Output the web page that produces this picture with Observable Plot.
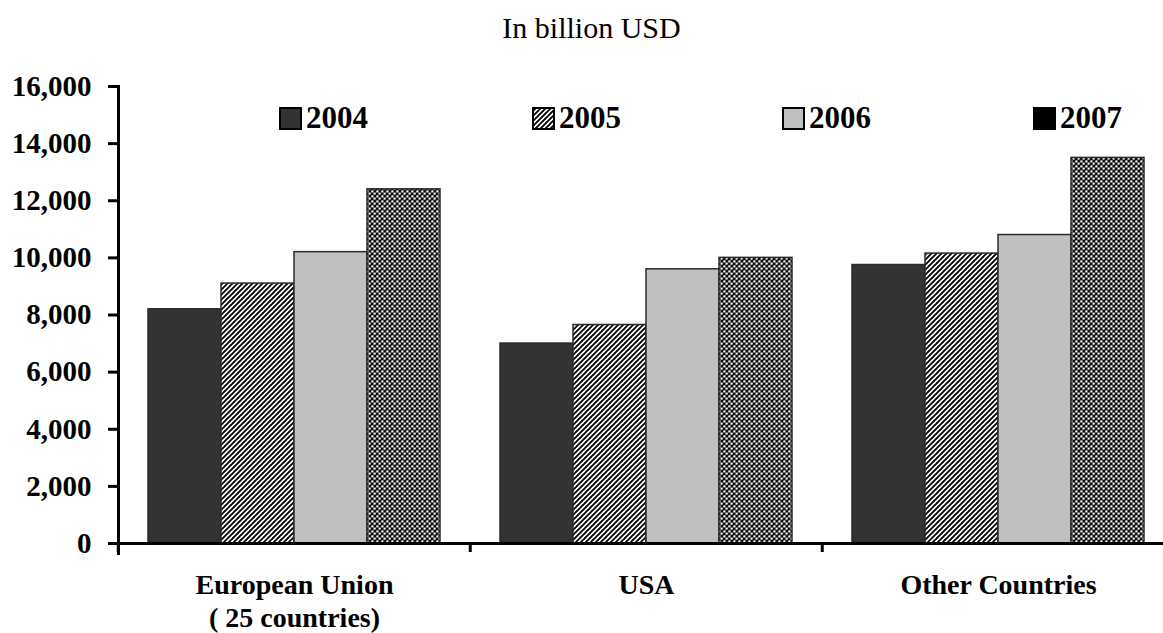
<!DOCTYPE html>
<html>
<head>
<meta charset="utf-8">
<script src="https://cdn.jsdelivr.net/npm/d3@7"></script>
<script src="https://cdn.jsdelivr.net/npm/@observablehq/plot@0.6"></script>
<style>
  html, body { margin: 0; padding: 0; background: #fff; }
  #wrap { position: relative; width: 1163px; height: 633px; overflow: hidden; }
  #title { position: absolute; left: 20px; top: 13px; width: 1143px; text-align: center;
           font-family: "Liberation Serif", serif; font-size: 30px; line-height: 30px; color: #000; }
  #chart { position: absolute; left: 0; top: 70px; }
  .leg { position: absolute; top: 103px; height: 30px; display: flex; align-items: center;
         font-family: "Liberation Serif", serif; font-weight: bold; font-size: 31px; color: #000; }
  .leg svg { margin-right: 4px; }
</style>
</head>
<body>
<div id="wrap">
  <div id="title"></div>
  <div id="chart"></div>
</div>
<script>
// ---- data ----
const title = "In billion USD";
const categories = ["European Union", "USA", "Other Countries"];
const categoryLabels = ["European Union\n( 25 countries)", "USA", "Other Countries"];
const years = ["2004", "2005", "2006", "2007"];
const euValues = [8200, 9100, 10200, 12400];
const usaValues = [7000, 7650, 9600, 10000];
const otherValues = [9750, 10150, 10800, 13500];
const yTicks = [0, 2000, 4000, 6000, 8000, 10000, 12000, 14000, 16000];

// ---- table ----
const series = [euValues, usaValues, otherValues];
const data = [];
categories.forEach((c, i) => years.forEach((y, j) => data.push({cat: c, year: y, value: series[i][j]})));
const labelOf = new Map(categories.map((c, i) => [c, categoryLabels[i]]));

const fills = ["#333333", "url(#p2005)", "#c0c0c0", "url(#p2007)"];
const legendFills = ["#333333", "url(#p2005)", "#c0c0c0", "#000000"];

document.getElementById("title").textContent = title;

const fmt = d3.format(",");
const font = "'Liberation Serif', serif";
const chart = Plot.plot({
  width: 1163,
  height: 563,
  marginLeft: 117,
  marginRight: -11.5,
  marginTop: 16,
  marginBottom: 90,
  style: {fontFamily: font, color: "#000", background: "transparent", overflow: "visible"},
  fx: {domain: categories, padding: 0, axis: null, label: null},
  x: {domain: years, paddingInner: 0, paddingOuter: 0.406, axis: null},
  y: {domain: [0, 16000], axis: null},
  color: {domain: years, range: fills, type: "ordinal"},
  marks: [
    Plot.barY(data, {fx: "cat", x: "year", y: "value", fill: "year", stroke: "#2a2a2a", strokeWidth: 1.5}),
    Plot.ruleY([0], {stroke: "#000", strokeWidth: 3}),
    Plot.frame({anchor: "left", facetAnchor: "left", stroke: "#000", strokeWidth: 3, insetBottom: -10}),
    Plot.axisY({ticks: yTicks, tickFormat: d => fmt(d), tickSize: 10, tickPadding: 17, strokeWidth: 3,
                fontSize: 29, fontWeight: "bold", label: null, facetAnchor: "left"}),
    Plot.axisFx({anchor: "bottom", tickSize: 9, text: null, dx: -176.25, strokeWidth: 3}),
    Plot.axisFx({anchor: "bottom", tickSize: 0, tickPadding: 27, tickFormat: d => labelOf.get(d),
                 fontSize: 28, fontWeight: "bold", lineHeight: 1.18, label: null})
  ]
});

// patterns
const svg = d3.select(chart);
const defs = svg.insert("defs", ":first-child");
const p5 = defs.append("pattern").attr("id", "p2005").attr("patternUnits", "userSpaceOnUse")
  .attr("width", 5).attr("height", 5);
p5.append("rect").attr("width", 5).attr("height", 5).attr("fill", "#fff");
p5.append("path").attr("d", "M-1,1 L1,-1 M0,5 L5,0 M4,6 L6,4").attr("stroke", "#000").attr("stroke-width", 1.9);
const p7 = defs.append("pattern").attr("id", "p2007").attr("patternUnits", "userSpaceOnUse")
  .attr("width", 5).attr("height", 5);
p7.append("rect").attr("width", 5).attr("height", 5).attr("fill", "#111");
p7.append("circle").attr("cx", 1.25).attr("cy", 1.25).attr("r", 1.05).attr("fill", "#fff");
p7.append("circle").attr("cx", 3.75).attr("cy", 3.75).attr("r", 1.05).attr("fill", "#fff");
p7.append("path").attr("d", "M0,2.5 H5 M2.5,0 V5").attr("stroke", "#888").attr("stroke-width", 0.6);

document.getElementById("chart").appendChild(chart);

// legend
const legendLeft = [279, 532, 782, 1033];
const wrap = document.getElementById("wrap");
years.forEach((y, i) => {
  const item = document.createElement("div");
  item.className = "leg";
  item.style.left = legendLeft[i] + "px";
  item.innerHTML = `<svg width="23" height="23"><rect x="1" y="1" width="21" height="21" fill="${legendFills[i]}" stroke="#000" stroke-width="2"/></svg>${y}`;
  wrap.appendChild(item);
});
</script>
</body>
</html>
